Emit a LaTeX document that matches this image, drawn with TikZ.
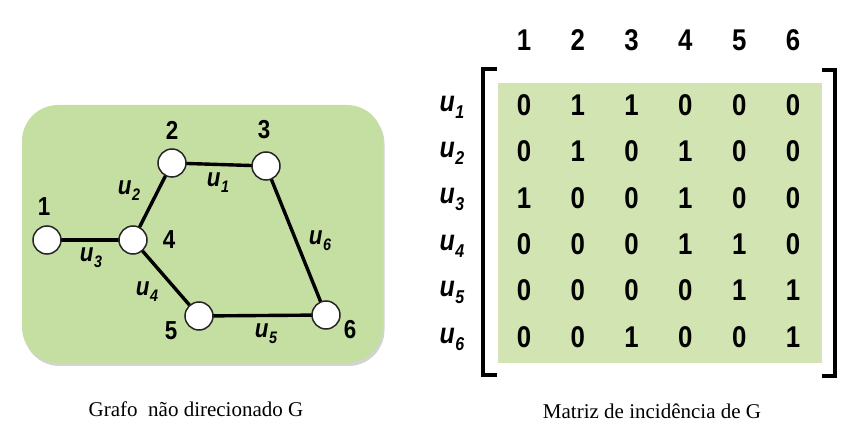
\documentclass[tikz,border=0pt]{standalone}
\usepackage{fontspec}
\setmainfont{Liberation Serif}
\newfontfamily\arialfont{Liberation Sans}
\newfontfamily\arialnarrow[FakeStretch=0.86]{Liberation Sans}
\usetikzlibrary{positioning,shadows}
\definecolor{panelgreen}{RGB}{197,223,163}
\definecolor{matgreen}{RGB}{209,228,178}
\newcommand\ulab[1]{\textit{u}\kern0.5pt\raisebox{-0.24em}{\scalebox{0.64}{\textit{#1}}}}

\begin{document}
\begin{tikzpicture}[x=1pt, y=-1pt, every node/.style={font=\arialnarrow\bfseries\fontsize{26}{26}\selectfont}]
  % styles for the graph and the matrix
  \tikzset{vtx/.style={circle, draw=black!85, line width=1.5pt, fill=white, minimum size=28pt, inner sep=0pt},
    edge/.style={line width=3.4pt},
    cell/.style={font=\arialnarrow\bfseries\fontsize{30}{30}\selectfont},
    bracket/.style={line width=3.8pt},
    caption/.style={font=\rmfamily\fontsize{21}{21}\selectfont}}
  \useasboundingbox (0,0) rectangle (857,446);

  % rounded green panel behind the graph
  \fill[panelgreen, rounded corners=36pt, drop shadow={opacity=0.35, shadow xshift=1.5pt, shadow yshift=-3pt}]
    (22,105) rectangle (383,363);

  % edges first, vertices on top
  \coordinate (p1) at (47,240);
  \coordinate (p2) at (172,163);
  \coordinate (p3) at (266,166);
  \coordinate (p4) at (133,240);
  \coordinate (p5) at (199,316);
  \coordinate (p6) at (326,315);
  \draw[edge] (p2) -- (p3);
  \draw[edge] (p4) -- (p2);
  \draw[edge] (p1) -- (p4);
  \draw[edge] (p4) -- (p5);
  \draw[edge] (p5) -- (p6);
  \draw[edge] (p3) -- (p6);
  \foreach \k in {1,...,6}
    \node[vtx] (v\k) at (p\k) {};

  % vertex numbers
  \node (n1) at (44,207) {1};
  \node (n2) at (172,130) {2};
  \node (n3) at (264,130) {3};
  \node (n4) at (169,240) {4};
  \node (n5) at (171,331) {5};
  \node (n6) at (350,330) {6};

  % edge labels
  \node (lu1) at (218,183) {\ulab{1}};
  \node (lu2) at (129,191) {\ulab{2}};
  \node (lu3) at (91,258) {\ulab{3}};
  \node (lu4) at (147,292) {\ulab{4}};
  \node (lu5) at (266,334) {\ulab{5}};
  \node (lu6) at (320,241) {\ulab{6}};

  % incidence matrix
  \fill[matgreen] (498,83) rectangle (822,363);
  \draw[bracket] (497,69) -- (483,69) -- (483,375) -- (497,375);
  \draw[bracket] (822,70) -- (835,70) -- (835,376) -- (822,376);
  \foreach \i in {1,...,6}
    \node[cell] (col\i) at ({524+53.8*(\i-1)},40) {\i};
  \foreach \vals [count=\j] in {{0,1,1,0,0,0},{0,1,0,1,0,0},{1,0,0,1,0,0},
                                {0,0,0,1,1,0},{0,0,0,0,1,1},{0,0,1,0,0,1}} {
    \node[font=\arialnarrow\bfseries\fontsize{29}{29}\selectfont] (row\j) at (452,{107+46.4*(\j-1)}) {\ulab{\j}};
    \foreach \v [count=\i] in \vals
      \node[cell] (m\j\i) at ({524+53.8*(\i-1)},{105+46.4*(\j-1)}) {\v};
  }

  % captions
  \node[caption] (capgraph) at (196,409) {Grafo\hspace{0.5em}não direcionado G};
  \node[caption] (capmat) at (652,411) {Matriz de incidência de G};
\end{tikzpicture}
\end{document}
